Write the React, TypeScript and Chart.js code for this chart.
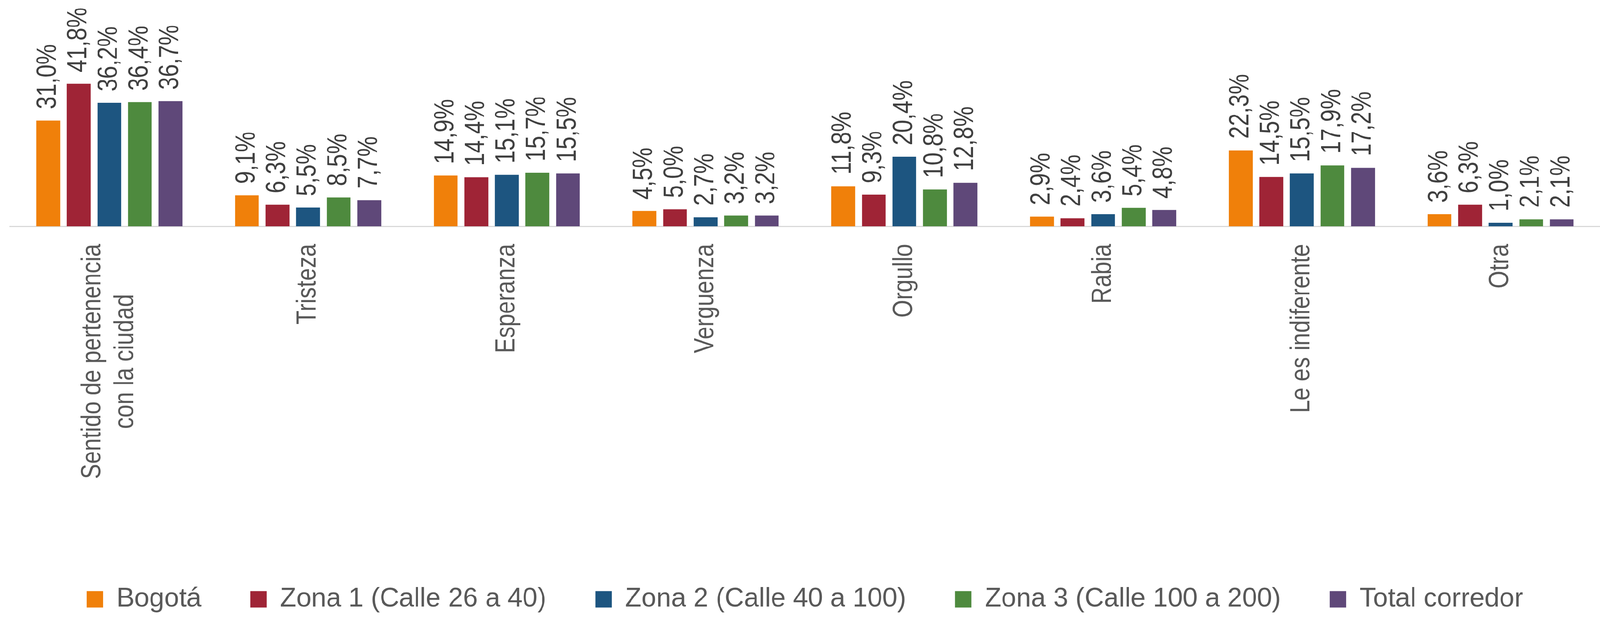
import React, { useEffect, useRef } from 'react';
import { Chart, registerables } from 'chart.js';

Chart.register(...registerables);

const categories: string[][] = [
  ['Sentido de pertenencia', 'con la ciudad'],
  ['Tristeza'],
  ['Esperanza'],
  ['Verguenza'],
  ['Orgullo'],
  ['Rabia'],
  ['Le es indiferente'],
  ['Otra'],
];

const seriesNames = [
  'Bogotá',
  'Zona 1 (Calle 26 a 40)',
  'Zona 2 (Calle 40 a 100)',
  'Zona 3 (Calle 100 a 200)',
  'Total corredor',
];

const bogota = [31.0, 9.1, 14.9, 4.5, 11.8, 2.9, 22.3, 3.6];
const zona1 = [41.8, 6.3, 14.4, 5.0, 9.3, 2.4, 14.5, 6.3];
const zona2 = [36.2, 5.5, 15.1, 2.7, 20.4, 3.6, 15.5, 1.0];
const zona3 = [36.4, 8.5, 15.7, 3.2, 10.8, 5.4, 17.9, 2.1];
const totalCorredor = [36.7, 7.7, 15.5, 3.2, 12.8, 4.8, 17.2, 2.1];

const seriesColors = ['#F0800A', '#9F2436', '#1D5580', '#4E8A3E', '#5F4879'];

const FONT = "'Liberation Sans', Arial, sans-serif";
const W = 4186;
const H = 1612;

const valueLabelPlugin = {
  id: 'valueLabels',
  afterDatasetsDraw(chart: any) {
    const ctx = chart.ctx as CanvasRenderingContext2D;
    ctx.save();
    ctx.font = `73px ${FONT}`;
    ctx.fillStyle = '#404040';
    ctx.textAlign = 'left';
    ctx.textBaseline = 'middle';
    chart.data.datasets.forEach((ds: any, di: number) => {
      const meta = chart.getDatasetMeta(di);
      meta.data.forEach((bar: any, i: number) => {
        const v = ds.data[i] as number;
        const text = v.toFixed(1).replace('.', ',') + '%';
        ctx.save();
        ctx.translate(bar.x, bar.y - 30);
        ctx.rotate(-Math.PI / 2);
        ctx.scale(0.82, 1);
        ctx.fillText(text, 0, 0);
        ctx.restore();
      });
    });
    ctx.restore();
  },
};

const categoryLabelPlugin = {
  id: 'categoryLabels',
  afterDraw(chart: any) {
    const ctx = chart.ctx as CanvasRenderingContext2D;
    const xs = chart.scales.x;
    const labels = chart.data.labels as string[][];
    const condense = 0.83;
    ctx.save();
    ctx.font = `72px ${FONT}`;
    ctx.fillStyle = '#595959';
    ctx.textAlign = 'center';
    ctx.textBaseline = 'middle';
    labels.forEach((lines, i) => {
      const x = xs.getPixelForValue(i);
      const widths = lines.map((l) => ctx.measureText(l).width * condense);
      const Wl = Math.max(...widths);
      const top = chart.chartArea.bottom + 46;
      ctx.save();
      ctx.translate(x, top + Wl / 2);
      ctx.rotate(-Math.PI / 2);
      ctx.scale(condense, 1);
      lines.forEach((l, k) => {
        ctx.fillText(l, 0, (k - (lines.length - 1) / 2) * 85);
      });
      ctx.restore();
    });
    ctx.restore();
  },
};

export default function App() {
  const canvasRef = useRef<HTMLCanvasElement | null>(null);

  const fit =
    typeof window !== 'undefined' && window.innerWidth > 0 && window.innerHeight > 0
      ? Math.min(window.innerWidth / W, window.innerHeight / H)
      : 1;

  useEffect(() => {
    if (!canvasRef.current) return;
    const seriesData = [bogota, zona1, zona2, zona3, totalCorredor];
    const chart = new Chart(canvasRef.current, {
      type: 'bar',
      data: {
        labels: categories,
        datasets: seriesNames.map((name, i) => ({
          label: name,
          data: seriesData[i],
          backgroundColor: seriesColors[i],
          borderWidth: 0,
          categoryPercentage: 0.769,
          barPercentage: 0.78,
        })),
      },
      options: {
        responsive: true,
        maintainAspectRatio: false,
        animation: false,
        layout: { padding: { top: 146, left: 26, right: 0, bottom: 0 } },
        plugins: {
          tooltip: { enabled: false },
          title: { display: false },
          legend: {
            display: true,
            position: 'bottom',
            align: 'center',
            labels: {
              boxWidth: 43,
              boxHeight: 43,
              padding: 128,
              color: '#595959',
              font: { size: 70, family: FONT },
            },
          },
        },
        scales: {
          x: {
            grid: { display: false },
            border: { display: true, color: '#D9D9D9', width: 3 },
            ticks: { display: false },
            afterFit: (scale: any) => {
              scale.height = H - 592 - (70 + 128 + 10);
            },
          },
          y: {
            display: false,
            min: 0,
            max: 50,
          },
        },
      },
      plugins: [valueLabelPlugin, categoryLabelPlugin],
    });
    return () => chart.destroy();
  }, []);

  return (
    <div
      style={{
        position: 'fixed',
        left: 0,
        top: 0,
        width: `${W}px`,
        height: `${H}px`,
        background: '#ffffff',
        transform: `scale(${fit})`,
        transformOrigin: '0 0',
      }}
    >
      <canvas ref={canvasRef} />
    </div>
  );
}
